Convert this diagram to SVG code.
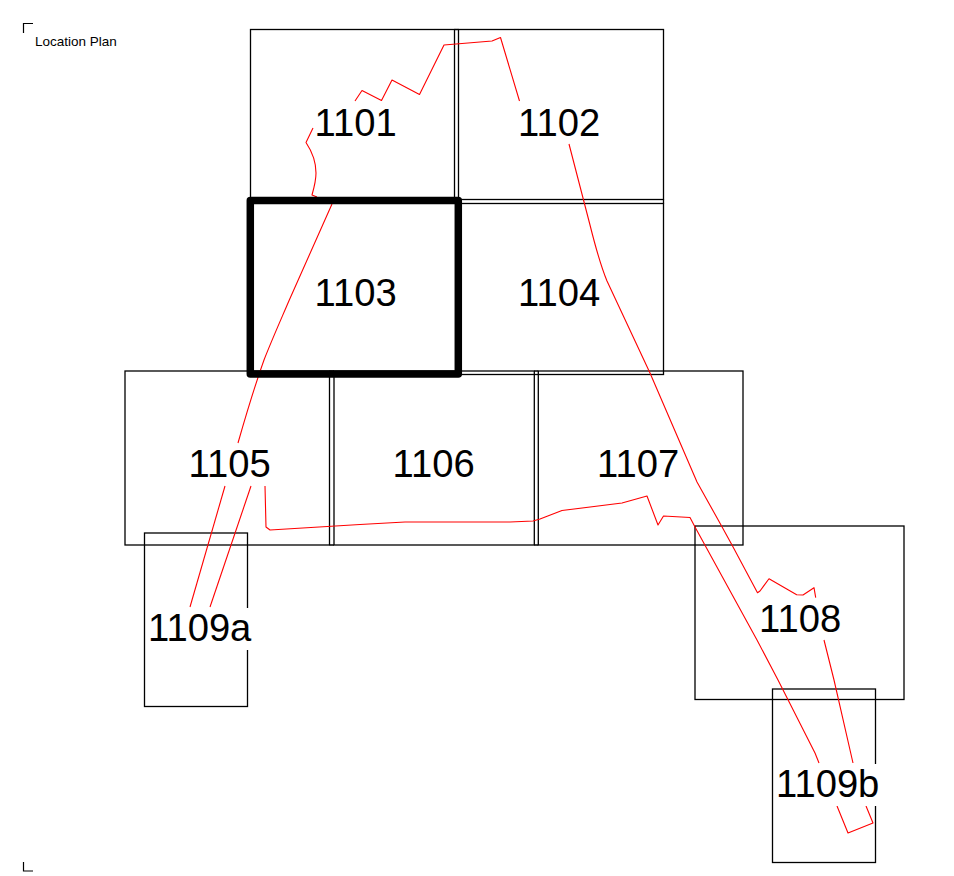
<svg xmlns="http://www.w3.org/2000/svg" width="954" height="876" viewBox="0 0 954 876">
<style>
text{font-family:"Liberation Sans",Arial,sans-serif;fill:#000}
.room{fill:none;stroke:#000;stroke-width:1.3}
.label{font-size:38.2px}
.mask{fill:#fff;stroke:none}
.link{fill:none;stroke:#f00;stroke-width:1.1;stroke-linejoin:round}
.mark{fill:none;stroke:#000;stroke-width:1.2}
</style>
<rect width="954" height="876" fill="#fff"/>
<g id="frame">
<path class="mark" d="M23.500 33V23.500H33"/>
<path class="mark" d="M23.500 862V871H33"/>
<text x="35" y="46" font-size="13.5">Location Plan</text>
</g>
<g id="room-1101"><rect class="room" x="250.500" y="29.500" width="204" height="170"/><text class="label" x="314.500" y="136">1101</text></g>
<g id="room-1102"><rect class="room" x="458.500" y="29.500" width="205" height="170"/><text class="label" x="518" y="136">1102</text></g>
<g id="room-1104"><rect class="room" x="458.500" y="203.500" width="205" height="171"/><text class="label" x="518" y="306">1104</text></g>
<g id="room-1105"><rect class="room" x="125" y="371" width="204.500" height="174"/><text class="label" x="188.500" y="477">1105</text></g>
<g id="room-1106"><rect class="room" x="334" y="371" width="200.300" height="174"/><text class="label" x="392.500" y="477">1106</text></g>
<g id="room-1107"><rect class="room" x="538.300" y="371" width="204.700" height="174"/><text class="label" x="597" y="477">1107</text></g>
<g id="room-1108"><rect class="room" x="695" y="526" width="209" height="173.500"/><text class="label" x="759" y="632">1108</text></g>
<g id="room-1109a"><rect class="room" x="144.500" y="533" width="103" height="173.500"/></g>
<g id="room-1109b"><rect class="room" x="772.500" y="689" width="103" height="173.500"/></g>
<g id="walls"><path class="room" d="M454.500 29.500H458.500M663.500 199.500V203.500M329.500 371H334M329.500 545H334M534.300 371H538.300M534.300 545H538.300"/></g>
<g id="connectors">
<path class="link" d="M355 101L362 90.500L381.500 100.500L392 80L419.500 94.500L444 45L492 41L500.500 37.500L519.500 101"/>
<path class="link" d="M313 128L306 142.500C313 153 316 163 316 173C316 181 314 188 312 195L317 197"/>
<path class="link" d="M332 204L289.300 300C279 324 271 342 264 360C254 388 246 415 238 443"/>
<path class="link" d="M225 486L190 607"/>
<path class="link" d="M251 486L210 607"/>
<path class="link" d="M265 486L266 527L270 530L360 524.500L405 522H510L533 521L540 519L562 510.500L622 503L647 496L658 525L663.500 516L690 517.500L695 527L757 640L778 680L815 753L819 763"/>
<path class="link" d="M837 806L848 833L873 823L866 806"/>
<path class="link" d="M824 640L834 680L853 763"/>
<path class="link" d="M569 144L590 225C595 245 600 264 607 281L650 373L697 482L721 525L732 545L757.500 592.700L760 591L769 578.700L796.700 594.700L803 595L814 587.700L815.700 597.700"/>
</g>
<g id="label-1109a"><rect class="mask" x="148" y="608" width="103" height="42"/><text class="label" x="148" y="641">1109a</text></g>
<g id="label-1109b"><rect class="mask" x="776" y="764" width="103" height="42"/><text class="label" x="776" y="797">1109b</text></g>
<g id="room-1103"><rect x="250.300" y="200.500" width="208" height="173.500" fill="none" stroke="#000" stroke-width="7.500" stroke-linejoin="round"/><text class="label" x="314.500" y="306">1103</text></g>
</svg>
